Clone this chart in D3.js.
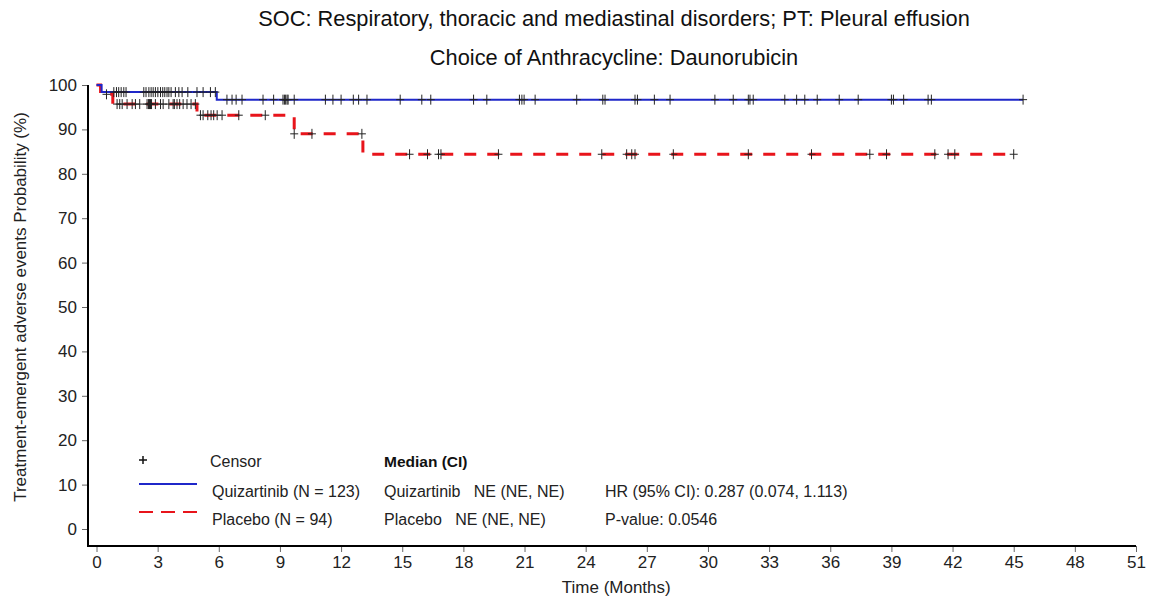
<!DOCTYPE html>
<html><head><meta charset="utf-8">
<script src="https://cdn.jsdelivr.net/npm/d3@7"></script>
<style>body{margin:0;background:#fff;} text{font-family:"Liberation Sans",Arial,sans-serif;}</style>
</head><body><svg id="c" width="1156" height="600"></svg>
<script>
const titleLines = ["SOC: Respiratory, thoracic and mediastinal disorders; PT: Pleural effusion", "Choice of Anthracycline: Daunorubicin"];
const xTicks = [0,3,6,9,12,15,18,21,24,27,30,33,36,39,42,45,48,51];
const yTicks = [0,10,20,30,40,50,60,70,80,90,100];
const quizStepTimes = [0, 0.25, 5.9];
const quizStepSurv = [100, 98.4, 96.7];
const quizEnd = 45.46;
const quizCensor = [0.85,0.98,1.09,1.21,1.34,1.45,2.32,2.43,2.57,2.68,2.78,2.89,3.01,3.14,3.25,3.35,3.46,3.55,3.66,3.87,4.04,4.2,4.48,4.93,5.23,5.59,5.83,6.4,6.65,6.85,7.14,8.17,8.69,9.15,9.22,9.28,9.35,9.4,9.7,11.23,11.6,12.0,12.6,12.86,13.27,14.9,15.96,16.4,18.5,19.15,20.75,20.87,20.98,21.52,23.56,24.84,24.95,26.42,26.54,27.37,28.14,30.34,31.24,31.98,32.06,32.22,33.77,34.35,34.75,35.36,36.44,37.37,39.0,39.1,39.6,40.8,40.96,45.46];
const placStepTimes = [0, 0.2, 0.8, 4.93, 9.7, 13.07];
const placStepSurv = [100, 97.9, 95.7, 93.2, 89.0, 84.4];
const placEnd = 45.0;
const placCensor = [0.49,1.01,1.14,1.26,1.5,1.75,1.91,2.12,2.48,2.55,2.6,2.65,2.7,2.89,3.14,3.27,3.55,3.76,3.82,3.95,4.08,4.25,4.44,4.64,4.85,5.1,5.23,5.46,5.62,5.75,5.92,6.16,6.98,8.28,9.7,10.57,13.02,15.36,16.24,16.78,16.9,19.72,24.79,26.01,26.26,26.42,28.3,31.98,35.08,37.94,38.76,41.13,41.78,42.11,45.0];
const legendNames = ["Quizartinib (N = 123)", "Placebo (N = 94)"];
const medianText = ["Quizartinib   NE (NE, NE)", "Placebo   NE (NE, NE)"];
const statsText = ["HR (95% CI): 0.287 (0.074, 1.113)", "P-value: 0.0546"];

const svg = d3.select("#c");
const x = d3.scaleLinear().domain([0,51]).range([96.5,1136]);
const y = d3.scaleLinear().domain([0,100]).range([529,85]);
const axisX0 = 88, axisY0 = 546;
const FONT = "Liberation Sans, Arial, sans-serif";

// titles
svg.append("text").attr("x",614).attr("y",26).attr("text-anchor","middle").attr("font-size",21.8).attr("fill","#111").text(titleLines[0]);
svg.append("text").attr("x",614).attr("y",65).attr("text-anchor","middle").attr("font-size",21.8).attr("fill","#111").text(titleLines[1]);

// axes
const gx = svg.append("g").attr("transform",`translate(0,${axisY0})`)
  .call(d3.axisBottom(x).tickValues(xTicks).tickSize(6).tickSizeOuter(0).tickPadding(4));
gx.select(".domain").remove();
gx.selectAll(".tick line").attr("stroke","#666");
gx.selectAll(".tick text").attr("font-size",17).attr("fill","#222").style("font-family",FONT);
const gy = svg.append("g").attr("transform",`translate(${axisX0},0)`)
  .call(d3.axisLeft(y).tickValues(yTicks).tickSize(6).tickSizeOuter(0).tickPadding(5));
gy.select(".domain").remove();
gy.selectAll(".tick line").attr("stroke","#666");
gy.selectAll(".tick text").attr("font-size",17).attr("fill","#222").style("font-family",FONT);
svg.append("line").attr("x1",axisX0).attr("x2",axisX0).attr("y1",y(100)).attr("y2",axisY0).attr("stroke","#000").attr("stroke-width",2);
svg.append("line").attr("x1",axisX0-1).attr("x2",x(51)).attr("y1",axisY0).attr("y2",axisY0).attr("stroke","#000").attr("stroke-width",2);

svg.append("text").attr("x",x(25.5)).attr("y",593).attr("text-anchor","middle").attr("font-size",17).attr("fill","#222").text("Time (Months)");
svg.append("text").attr("transform",`translate(26,${y(50)}) rotate(-90)`).attr("text-anchor","middle").attr("font-size",17).attr("fill","#222").text("Treatment-emergent adverse events Probability  (%)");

function stepPts(times, surv, end){
  const pts = [];
  times.forEach((t,i)=>{ if(i>0) pts.push([t, surv[i-1]]); pts.push([t, surv[i]]); });
  pts.push([end, surv[surv.length-1]]);
  return pts;
}
function survAt(times, surv, t){
  let v = surv[0];
  times.forEach((tt,i)=>{ if(tt<=t) v = surv[i]; });
  return v;
}
const line = d3.line().x(d=>x(d[0])).y(d=>y(d[1]));

svg.append("path").attr("d", line(stepPts(placStepTimes, placStepSurv, placEnd)))
  .attr("fill","none").attr("stroke","#e8141b").attr("stroke-width",3).attr("stroke-dasharray","12,11");
svg.append("path").attr("d", line(stepPts(quizStepTimes, quizStepSurv, quizEnd)))
  .attr("fill","none").attr("stroke","#1f27c9").attr("stroke-width",2);

const plus = "M-4,0H4M0,-5V5";
function censors(times, stepT, stepS){
  svg.append("g").selectAll("path").data(times).join("path")
    .attr("transform", t=>`translate(${x(t)},${y(survAt(stepT, stepS, t))})`)
    .attr("d", plus).attr("stroke","#222").attr("stroke-width",1).attr("fill","none");
}
censors(quizCensor, quizStepTimes, quizStepSurv);
censors(placCensor, placStepTimes, placStepSurv);

// legend
const lg = svg.append("g");
lg.append("path").attr("transform","translate(143,460)").attr("d","M-4,0H4M0,-4V4").attr("stroke","#111").attr("stroke-width",1.5);
lg.append("text").attr("x",210).attr("y",467).attr("font-size",16).attr("fill","#222").text("Censor");
lg.append("text").attr("x",384).attr("y",467).attr("font-size",15.5).attr("font-weight","bold").attr("fill","#111").text("Median (CI)");
lg.append("line").attr("x1",139).attr("x2",197).attr("y1",484).attr("y2",484).attr("stroke","#1f27c9").attr("stroke-width",2);
lg.append("line").attr("x1",139).attr("x2",197).attr("y1",512).attr("y2",512).attr("stroke","#e8141b").attr("stroke-width",2).attr("stroke-dasharray","14,8");
legendNames.forEach((n,i)=>{
  lg.append("text").attr("x",212).attr("y",497+i*28).attr("font-size",16).attr("fill","#222").text(n);
  lg.append("text").attr("x",384).attr("y",497+i*28).attr("font-size",16).attr("fill","#222").style("white-space","pre").text(medianText[i]);
  lg.append("text").attr("x",605).attr("y",497+i*28).attr("font-size",16).attr("fill","#222").text(statsText[i]);
});
</script></body></html>
